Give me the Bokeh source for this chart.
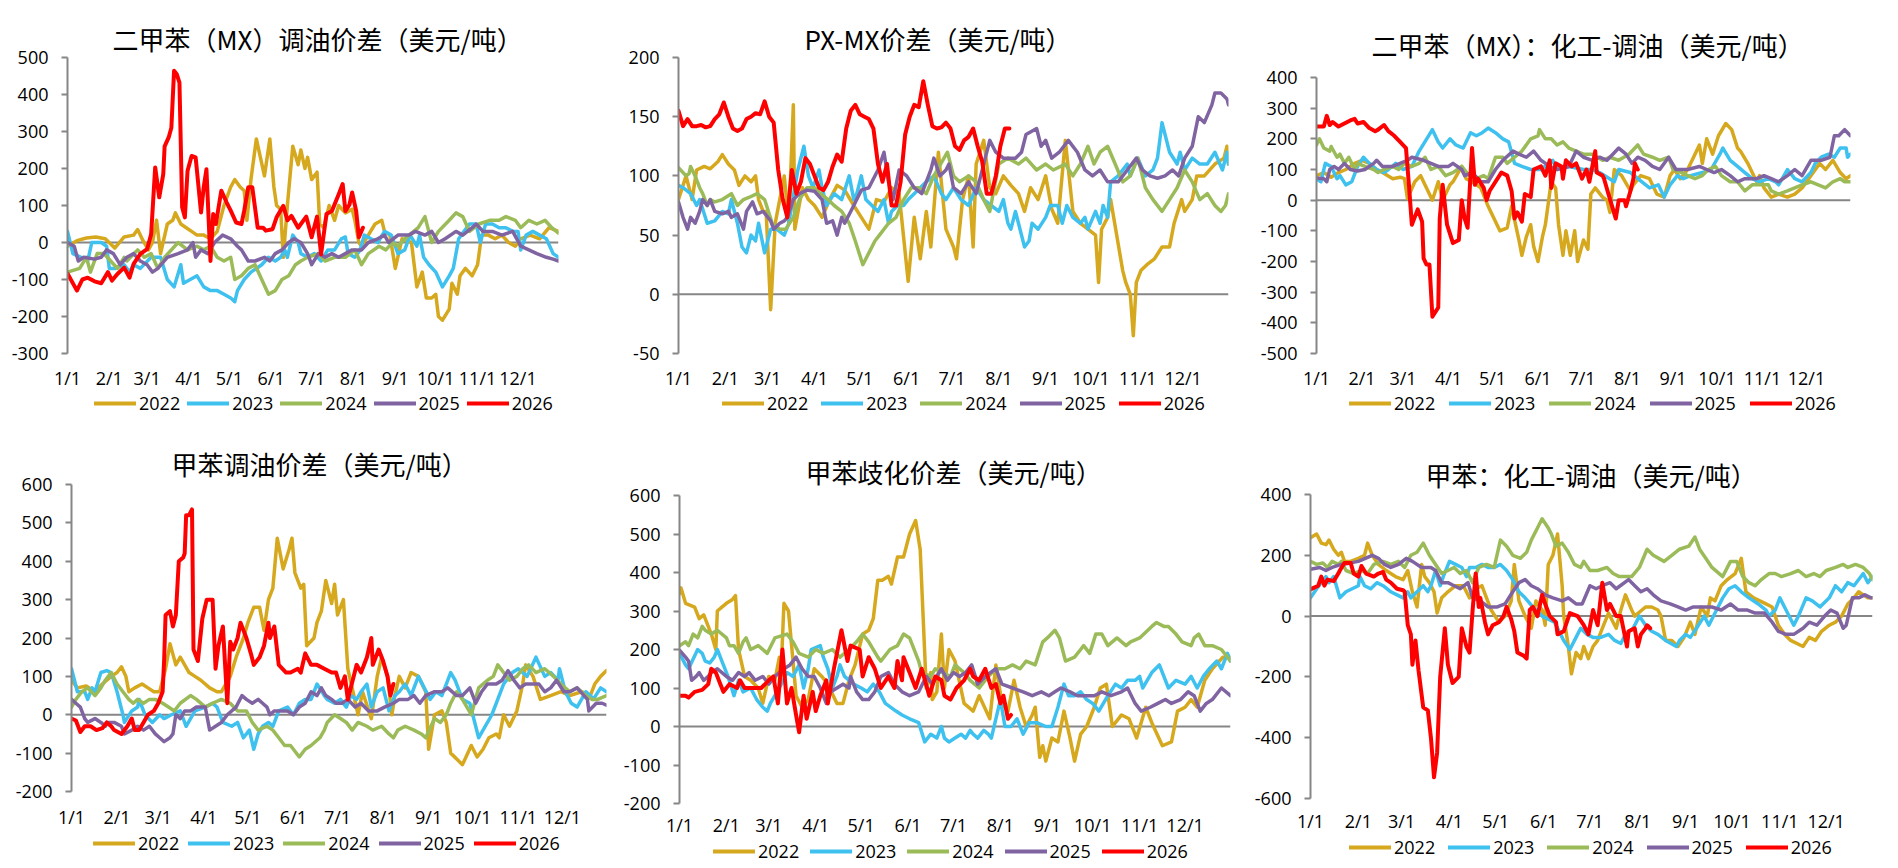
from bokeh.plotting import figure
from bokeh.models import Range1d, FixedTicker, Span, Legend, LegendItem
from bokeh.layouts import column, row
from bokeh.embed import file_html
from bokeh.resources import INLINE

YEARS = ["2022", "2023", "2024", "2025", "2026"]
COLORS = ["#D6A81E", "#3FC1F0", "#9BBB59", "#8064A2", "#FF0000"]
MONTH_DAYS = [0, 31, 59, 90, 120, 151, 181, 212, 243, 273, 304, 334]
MONTH_LABELS = ["1/1", "2/1", "3/1", "4/1", "5/1", "6/1", "7/1", "8/1", "9/1", "10/1", "11/1", "12/1"]

# ---------- Chart 1: 二甲苯（MX）调油价差 (day-of-year, value) ----------
c1_2022 = [(0,-10),(7,5),(14,12),(21,15),(28,10),(35,-15),(42,15),(49,20),(52,35),(56,5),(60,-20),(63,0),(66,60),(69,-30),(74,50),(78,60),(80,80),(84,50),(88,40),(92,30),(96,20),(101,20),(106,10),(111,30),(116,100),(121,150),(124,170),(128,150),(131,140),(133,60),(136,170),(140,280),(146,180),(150,280),(153,150),(155,100),(158,90),(160,-40),(163,100),(167,260),(171,210),(173,250),(176,200),(178,230),(181,170),(185,190),(187,50),(190,40),(194,100),(198,60),(201,100),(206,80),(211,90),(213,60),(216,0),(218,-10),(223,20),(228,50),(233,60),(235,30),(239,20),(243,-70),(248,10),(255,0),(259,-120),(263,-80),(266,-150),(270,-150),(273,-140),(275,-200),(278,-210),(283,-180),(285,-110),(289,-140),(291,-90),(295,-70),(300,-90),(304,-60),(307,20),(312,20),(317,10),(322,20),(327,0),(332,-10),(336,10),(343,20),(350,10),(357,40),(364,30)]
c1_2023 = [(0,30),(4,-30),(10,-40),(15,-50),(18,0),(25,0),(29,-10),(31,-70),(36,-70),(42,-60),(46,-80),(49,-60),(54,-70),(62,-40),(69,-40),(74,-100),(79,-120),(84,-60),(86,-110),(91,-100),(96,-90),(101,-120),(106,-130),(111,-130),(116,-140),(121,-150),(124,-160),(126,-130),(131,-100),(136,-80),(144,-60),(149,-40),(154,-50),(158,-40),(161,-20),(163,-40),(167,20),(171,0),(173,-30),(178,-40),(183,-30),(188,-50),(193,-20),(198,-20),(203,10),(206,15),(208,-30),(213,-40),(217,-20),(220,20),(225,10),(230,0),(235,30),(240,20),(245,-30),(250,-20),(254,20),(259,-10),(261,20),(264,-40),(268,-60),(273,-80),(278,-120),(283,-90),(286,-70),(290,10),(294,30),(298,50),(303,50),(306,0),(310,50),(315,50),(320,40),(325,40),(330,30),(334,30),(336,-20),(340,20),(345,30),(350,20),(355,10),(360,-30),(364,-40)]
c1_2024 = [(0,-80),(9,-70),(14,-40),(17,-80),(22,-30),(27,-30),(32,-50),(37,-70),(42,-40),(44,-50),(52,-20),(57,-40),(62,-30),(67,-70),(72,-40),(82,0),(89,-20),(96,-10),(101,-20),(106,-10),(111,-40),(116,-50),(121,-40),(124,-100),(129,-90),(134,-70),(139,-60),(144,-100),(149,-140),(154,-130),(159,-100),(164,-90),(169,-60),(173,-50),(178,-40),(186,-30),(191,-50),(198,-40),(206,-40),(213,-20),(218,-60),(223,-30),(231,-10),(236,-20),(241,0),(245,-10),(250,10),(260,40),(265,70),(270,0),(275,30),(283,60),(288,80),(293,70),(298,30),(305,50),(313,60),(320,60),(325,70),(332,60),(336,40),(342,60),(348,50),(354,60),(359,40),(364,25)]
c1_2025 = [(0,0),(5,-10),(8,-50),(12,-40),(20,-45),(25,-40),(29,-20),(34,-30),(39,-60),(44,-40),(49,-30),(54,-50),(59,-60),(63,-80),(67,-70),(74,-40),(82,-30),(89,-20),(93,0),(95,-40),(99,-20),(104,-30),(109,0),(115,20),(121,10),(126,-10),(129,-20),(134,-50),(139,-50),(146,-40),(150,-50),(154,-30),(159,-20),(164,0),(168,10),(173,0),(178,-30),(181,-60),(186,-30),(191,-40),(196,-30),(201,-40),(206,-30),(211,-20),(218,-20),(223,0),(230,10),(235,20),(238,0),(245,20),(253,20),(258,30),(265,20),(270,30),(275,0),(280,10),(288,30),(293,20),(300,40),(303,50),(308,30),(315,30),(322,20),(330,30),(336,-10),(342,-20),(348,-30),(355,-40),(360,-45),(364,-50)]
c1_2026 = [(0,-84),(7,-130),(11,-100),(15,-95),(20,-105),(25,-110),(30,-80),(33,-103),(37,-85),(42,-68),(46,-95),(49,-58),(54,-31),(59,-18),(62,22),(65,203),(68,122),(71,185),(72,260),(75,284),(77,310),(79,464),(81,455),(83,432),(85,95),(87,68),(89,194),(92,234),(95,230),(99,81),(101,150),(103,198),(106,-50),(108,77),(110,50),(114,140),(118,108),(121,86),(125,54),(129,50),(131,86),(134,149),(137,149),(141,40),(145,40),(147,32),(152,36),(155,68),(160,99),(163,60),(166,72),(171,40),(177,70),(181,14),(185,70),(188,-32),(192,77),(196,85),(201,130),(204,158),(206,85),(209,102),(211,135),(214,85),(216,14),(219,40)]

# ---------- Chart 2: PX-MX价差 ----------
c2_2022 = [(0,80),(5,100),(9,80),(12,105),(17,108),(21,106),(26,112),(29,118),(33,110),(37,105),(40,92),(44,100),(48,95),(51,100),(53,80),(56,70),(58,70),(61,-13),(64,60),(67,80),(70,100),(73,60),(76,160),(77,55),(82,90),(86,80),(90,75),(95,65),(100,80),(105,92),(110,88),(116,75),(121,65),(126,55),(131,80),(136,78),(141,90),(146,85),(152,11),(156,65),(160,30),(164,70),(167,40),(172,120),(177,55),(182,40),(184,30),(188,80),(192,100),(195,40),(197,110),(202,130),(206,90),(210,85),(215,100),(220,92),(225,85),(229,70),(233,90),(238,80),(243,100),(247,72),(251,60),(256,130),(261,70),(266,60),(271,55),(276,50),(278,10),(280,55),(284,65),(286,80),(294,20),(296,10),(299,0),(301,-35),(303,10),(306,20),(310,25),(315,30),(320,40),(325,40),(328,60),(333,80),(335,70),(340,80),(343,100),(348,100),(355,110),(361,115),(363,125),(364,110)]
c2_2023 = [(0,92),(3,90),(8,85),(12,75),(14,80),(19,60),(24,62),(29,70),(33,68),(35,80),(39,60),(42,40),(45,35),(48,50),(51,45),(53,60),(57,35),(61,55),(65,55),(70,50),(73,60),(79,105),(83,125),(86,100),(89,90),(93,105),(95,90),(98,75),(103,85),(108,80),(113,100),(116,80),(118,85),(121,100),(124,80),(128,75),(132,70),(136,80),(139,60),(141,70),(145,75),(149,75),(152,80),(156,85),(164,95),(169,100),(174,85),(177,80),(182,90),(187,80),(192,75),(197,90),(202,80),(207,75),(212,70),(215,80),(218,60),(220,55),(223,70),(225,60),(229,40),(232,45),(234,60),(238,55),(243,65),(246,75),(251,75),(254,60),(257,75),(261,65),(266,60),(269,65),(271,55),(276,70),(279,60),(281,75),(284,65),(286,95),(291,100),(297,110),(299,100),(304,115),(309,100),(314,105),(317,115),(320,145),(325,120),(330,110),(332,120),(335,105),(340,115),(345,110),(350,110),(355,120),(360,105),(363,120),(364,110)]
c2_2024 = [(0,107),(5,100),(7,102),(8,108),(11,100),(14,90),(16,85),(19,75),(21,80),(24,78),(29,80),(35,85),(39,75),(43,80),(47,82),(52,85),(57,80),(62,60),(67,55),(71,55),(76,65),(80,80),(85,90),(90,90),(94,85),(99,80),(103,75),(108,70),(113,60),(117,45),(122,25),(126,35),(130,45),(133,50),(139,60),(144,65),(149,80),(154,90),(159,90),(164,85),(169,100),(178,120),(182,100),(186,95),(192,100),(197,95),(202,80),(206,70),(212,110),(218,115),(225,110),(230,115),(237,105),(243,110),(248,105),(256,110),(261,100),(266,110),(271,125),(275,110),(279,120),(284,125),(289,110),(294,95),(299,100),(304,115),(309,90),(314,80),(320,70),(325,80),(330,90),(335,105),(340,95),(345,80),(350,85),(355,75),(359,70),(362,75),(364,85)]
c2_2025 = [(0,78),(3,65),(6,55),(8,65),(11,60),(14,70),(16,80),(19,75),(21,80),(24,70),(29,68),(33,70),(35,65),(39,68),(43,55),(45,70),(49,78),(52,68),(56,70),(61,62),(63,55),(67,60),(70,62),(72,65),(76,80),(80,85),(85,88),(90,87),(95,80),(98,60),(102,62),(105,50),(108,65),(110,60),(116,75),(121,88),(126,90),(132,105),(136,120),(139,95),(142,80),(146,105),(151,100),(156,90),(161,85),(167,105),(169,115),(173,100),(177,105),(179,110),(182,90),(187,85),(192,95),(197,85),(202,110),(206,130),(210,120),(215,115),(223,115),(227,120),(230,135),(237,140),(240,125),(243,130),(247,115),(252,120),(258,130),(264,120),(269,105),(274,100),(279,105),(284,95),(291,95),(297,105),(303,115),(307,105),(312,100),(317,98),(322,100),(327,105),(331,100),(335,115),(340,125),(344,150),(348,145),(353,160),(355,170),(359,170),(363,165),(364,160)]
c2_2026 = [(0,155),(3,142),(6,148),(9,142),(12,142),(15,143),(18,141),(21,142),(24,148),(27,152),(30,162),(33,150),(36,140),(39,138),(42,140),(45,148),(48,150),(51,153),(54,152),(57,163),(60,150),(63,145),(66,105),(69,80),(72,65),(75,105),(78,85),(81,95),(84,115),(87,110),(90,100),(93,90),(96,88),(99,95),(102,108),(105,118),(108,112),(111,140),(114,155),(117,160),(120,152),(123,150),(126,148),(129,140),(132,110),(135,95),(138,110),(141,75),(144,75),(147,95),(150,135),(153,150),(156,160),(159,158),(162,180),(165,160),(168,142),(171,140),(174,141),(177,145),(180,140),(183,125),(186,122),(189,130),(192,133),(195,140),(198,125),(201,112),(204,85),(207,85),(210,100),(213,125),(216,140),(219,140)]

# ---------- Chart 3: 二甲苯（MX）：化工-调油 ----------
c3_2022 = [(0,80),(5,90),(10,75),(15,90),(20,100),(26,120),(31,130),(36,120),(41,100),(45,90),(52,70),(57,75),(60,70),(62,5),(67,60),(71,80),(75,40),(79,0),(83,60),(86,0),(91,50),(93,60),(99,110),(102,70),(106,60),(112,40),(117,-20),(121,-60),(125,-100),(130,-90),(133,-20),(138,-130),(140,-180),(143,-120),(146,-80),(148,-150),(151,-200),(154,-120),(156,-80),(160,60),(163,40),(165,-80),(168,-180),(170,-100),(173,-180),(176,-100),(178,-200),(182,-130),(185,-160),(187,20),(190,40),(195,10),(198,0),(200,-40),(203,100),(208,80),(214,30),(216,50),(221,80),(227,70),(232,20),(237,10),(241,80),(244,100),(248,70),(253,100),(258,150),(261,180),(263,120),(266,200),(270,150),(274,210),(279,250),(283,230),(287,170),(289,160),(294,120),(300,60),(302,80),(305,40),(310,10),(315,20),(321,10),(326,20),(331,40),(337,80),(343,120),(347,100),(352,130),(357,90),(361,70),(364,80)]
c3_2023 = [(0,70),(3,60),(6,120),(10,110),(14,70),(16,80),(20,50),(24,60),(28,110),(32,140),(36,120),(41,100),(46,90),(49,100),(54,120),(59,100),(65,110),(70,160),(79,230),(83,190),(86,170),(91,200),(95,180),(100,170),(105,220),(109,210),(113,220),(117,235),(122,220),(127,200),(131,190),(135,120),(140,110),(146,100),(153,100),(161,130),(164,100),(172,110),(182,100),(188,100),(193,90),(203,60),(206,100),(214,90),(219,70),(227,40),(233,50),(237,10),(241,50),(246,80),(250,70),(255,80),(263,90),(269,100),(275,150),(277,170),(282,130),(287,110),(292,90),(297,70),(302,60),(308,70),(313,60),(315,50),(321,100),(326,70),(331,60),(337,90),(340,120),(344,140),(349,150),(353,140),(357,170),(361,170),(362,140),(364,150)]
c3_2024 = [(0,180),(2,200),(5,170),(9,160),(10,175),(14,140),(16,150),(19,120),(22,140),(26,100),(28,120),(33,110),(39,100),(42,90),(46,100),(52,110),(56,100),(60,120),(65,110),(70,120),(74,140),(78,100),(83,110),(88,80),(93,90),(99,110),(104,80),(109,70),(114,80),(117,70),(122,140),(127,140),(130,120),(135,140),(140,160),(146,200),(151,210),(152,230),(156,200),(160,200),(164,180),(168,190),(172,170),(177,160),(182,150),(188,150),(195,130),(200,140),(206,130),(213,150),(219,180),(223,150),(229,140),(234,130),(240,140),(243,100),(249,90),(253,80),(258,70),(263,80),(267,100),(272,110),(276,80),(282,60),(287,60),(292,30),(297,50),(302,50),(308,50),(310,30),(315,20),(321,30),(326,40),(331,50),(337,60),(342,50),(347,40),(352,60),(357,70),(360,60),(364,60)]
c3_2025 = [(0,72),(5,70),(7,60),(9,100),(12,110),(15,100),(19,120),(23,100),(28,95),(33,100),(39,120),(41,130),(45,110),(52,110),(57,120),(62,130),(65,140),(73,130),(78,120),(83,110),(90,110),(93,120),(99,100),(101,80),(106,90),(112,60),(117,60),(122,100),(127,130),(134,160),(138,150),(143,140),(148,160),(153,130),(159,110),(164,100),(172,110),(177,160),(182,140),(188,130),(193,140),(198,130),(202,150),(206,170),(211,150),(215,120),(219,140),(224,130),(229,110),(234,100),(240,140),(245,100),(253,100),(261,110),(266,100),(271,90),(276,100),(282,80),(287,60),(292,70),(300,70),(305,80),(310,70),(315,60),(321,80),(326,100),(331,80),(337,130),(344,130),(350,140),(353,210),(356,210),(360,230),(362,220),(364,210)]
c3_2026 = [(0,240),(5,240),(7,275),(9,245),(11,255),(15,240),(19,250),(23,260),(26,265),(28,250),(32,255),(36,235),(40,225),(42,230),(46,245),(49,225),(53,210),(57,190),(61,170),(63,50),(65,-80),(69,-30),(72,-70),(73,-190),(75,-210),(77,-210),(79,-380),(83,-350),(84,-60),(86,50),(89,-80),(93,-140),(97,-130),(99,0),(101,-60),(103,-90),(106,170),(108,50),(110,70),(114,40),(116,0),(118,30),(122,60),(126,90),(130,80),(133,30),(135,-60),(137,-40),(140,-70),(142,20),(146,10),(148,100),(153,110),(156,80),(159,130),(160,40),(163,120),(167,110),(168,70),(170,130),(174,110),(177,120),(181,70),(184,100),(186,60),(190,160),(191,90),(195,80),(196,70),(199,20),(204,-60),(206,0),(210,0),(211,-20),(214,30),(216,70),(217,120),(219,100)]

# ---------- Chart 4: 甲苯调油价差 ----------
c4_2022 = [(0,90),(4,70),(10,75),(16,60),(21,80),(27,100),(31,110),(34,125),(37,100),(39,60),(43,70),(48,80),(52,70),(56,60),(60,60),(64,120),(67,185),(71,130),(74,150),(80,110),(84,100),(88,90),(94,70),(99,60),(102,60),(108,100),(112,150),(117,200),(120,240),(124,280),(128,280),(131,220),(134,300),(137,330),(140,460),(144,380),(148,430),(150,460),(152,370),(156,330),(158,340),(160,180),(165,200),(167,240),(170,270),(173,350),(177,290),(179,340),(181,260),(185,300),(188,120),(195,0),(198,60),(204,-10),(208,100),(211,150),(215,100),(218,0),(220,50),(223,100),(227,70),(231,110),(236,100),(241,60),(243,-90),(247,0),(252,10),(255,-20),(258,-100),(266,-130),(272,-80),(276,-110),(280,-90),(284,-60),(289,-50),(291,-60),(294,0),(298,-30),(303,10),(307,80),(309,130),(314,100),(319,40),(326,50),(333,60),(339,50),(347,60),(353,50),(356,80),(360,100),(364,115)]
c4_2023 = [(0,120),(4,60),(9,60),(11,40),(14,70),(16,60),(20,110),(24,115),(27,110),(31,60),(35,0),(36,-20),(41,10),(45,20),(46,40),(50,0),(55,-20),(60,0),(63,-10),(68,0),(74,10),(78,-30),(84,10),(91,20),(96,30),(99,20),(103,-20),(109,-30),(113,-20),(117,-60),(121,-40),(124,-90),(127,-50),(130,-30),(134,-20),(137,-30),(141,10),(147,20),(151,0),(155,30),(159,40),(163,40),(167,80),(172,50),(174,40),(179,30),(183,40),(187,20),(190,50),(194,40),(197,60),(201,80),(204,20),(208,60),(212,70),(216,10),(220,50),(223,60),(227,80),(231,50),(236,100),(240,70),(244,40),(248,60),(252,50),(258,110),(261,90),(266,40),(271,30),(275,-30),(277,-60),(280,-40),(286,0),(290,40),(294,80),(300,110),(304,120),(310,100),(316,150),(322,100),(326,110),(331,90),(332,120),(336,60),(340,30),(344,20),(350,60),(353,50),(355,40),(360,70),(364,60)]
c4_2024 = [(0,20),(3,40),(7,60),(11,70),(16,50),(20,70),(23,90),(27,110),(31,80),(35,60),(39,40),(42,30),(45,40),(49,30),(53,40),(57,40),(62,30),(66,20),(70,10),(74,30),(81,50),(85,40),(91,20),(96,30),(102,40),(108,30),(113,10),(119,10),(123,-20),(127,-40),(133,-30),(137,-40),(141,-60),(145,-80),(149,-80),(155,-110),(159,-90),(163,-80),(169,-60),(172,-40),(174,-20),(179,0),(183,-10),(187,-20),(191,-40),(195,-20),(201,-30),(205,-40),(211,-30),(216,-50),(219,-60),(222,-40),(227,-30),(233,-40),(238,-50),(241,-60),(247,-10),(251,-20),(255,0),(258,30),(262,60),(266,40),(272,0),(277,70),(283,90),(287,100),(290,130),(294,110),(298,90),(303,100),(307,120),(311,130),(316,110),(322,120),(328,100),(333,80),(339,60),(344,70),(350,50),(354,40),(358,40),(364,50)]
c4_2025 = [(0,40),(3,30),(6,20),(9,-10),(11,-20),(16,-10),(20,-20),(23,-30),(25,-20),(29,-20),(34,-30),(36,-50),(41,-40),(45,-30),(49,-40),(53,-30),(57,-50),(60,-60),(63,-70),(67,-60),(69,-50),(71,0),(74,-10),(77,10),(81,10),(85,20),(91,20),(94,-40),(98,-30),(102,-20),(106,0),(112,20),(116,50),(119,40),(123,30),(127,40),(130,30),(133,20),(135,0),(138,10),(142,10),(147,10),(151,0),(155,20),(159,30),(163,60),(167,50),(170,70),(173,50),(177,40),(180,30),(184,30),(188,40),(193,20),(197,30),(202,10),(208,10),(213,20),(219,30),(223,40),(229,40),(233,50),(237,30),(241,50),(247,60),(252,60),(256,70),(262,50),(266,50),(271,70),(275,30),(279,60),(283,80),(289,80),(293,90),(297,115),(301,90),(305,70),(309,80),(314,80),(318,80),(322,60),(326,70),(330,90),(335,60),(339,60),(344,70),(351,40),(352,10),(357,30),(361,30),(364,25)]
c4_2026 = [(0,-10),(3,-15),(6,-45),(9,-30),(13,-30),(17,-40),(21,-35),(24,-20),(27,-30),(29,-40),(34,-50),(38,-30),(41,-10),(43,-40),(46,-40),(49,-20),(52,0),(56,10),(59,30),(62,60),(63,140),(64,260),(67,270),(69,230),(71,260),(73,400),(76,410),(77,420),(78,520),(80,520),(82,535),(83,170),(86,140),(89,250),(92,300),(96,300),(98,120),(100,180),(103,230),(106,30),(108,190),(110,170),(113,200),(115,240),(119,200),(122,160),(124,130),(128,150),(131,180),(134,240),(135,200),(138,230),(141,130),(146,110),(149,110),(154,120),(156,110),(159,160),(163,130),(167,130),(172,120),(177,110),(180,110),(183,70),(186,100),(188,40),(194,130),(197,110),(201,150),(204,200),(205,130),(209,170),(212,140),(215,100),(217,50),(219,80)]

# ---------- Chart 5: 甲苯歧化价差 ----------
c5_2022 = [(0,345),(1,360),(4,320),(10,310),(13,280),(16,290),(19,260),(21,240),(24,200),(25,300),(28,310),(31,320),(35,330),(37,340),(39,200),(43,130),(47,120),(52,100),(55,60),(59,130),(63,120),(66,180),(67,130),(69,320),(72,300),(75,170),(77,80),(81,50),(85,70),(89,150),(94,130),(98,110),(104,60),(108,60),(112,120),(116,160),(121,240),(125,250),(128,280),(131,380),(134,380),(138,390),(140,370),(144,440),(148,440),(152,500),(156,535),(159,460),(163,100),(166,140),(167,70),(170,90),(173,240),(175,100),(178,200),(182,170),(188,60),(194,40),(198,80),(205,20),(209,160),(213,60),(217,40),(221,120),(225,50),(229,0),(233,30),(235,50),(238,-80),(240,-50),(242,-90),(246,-30),(250,-40),(254,40),(258,-30),(261,-90),(265,-20),(269,0),(274,50),(278,100),(282,110),(286,0),(292,30),(297,20),(302,-30),(308,50),(312,10),(319,-50),(325,-40),(329,40),(334,50),(338,70),(342,50),(347,120),(352,150),(359,180),(364,180)]
c5_2023 = [(0,190),(4,160),(6,150),(12,200),(15,190),(17,170),(20,165),(23,180),(25,200),(28,170),(32,130),(36,80),(39,120),(42,90),(47,100),(51,70),(55,50),(58,40),(60,60),(66,100),(71,140),(75,130),(79,160),(82,100),(85,150),(87,200),(93,210),(95,180),(98,150),(101,100),(104,130),(106,160),(109,130),(115,110),(120,100),(124,90),(128,110),(132,90),(136,60),(143,40),(147,30),(152,20),(158,10),(162,-40),(166,-20),(170,-30),(173,0),(175,-30),(178,-40),(182,-30),(186,-20),(189,-30),(192,-10),(194,-20),(197,-30),(201,-10),(204,-20),(206,-30),(209,20),(212,70),(215,0),(219,0),(223,20),(227,-20),(231,10),(236,10),(242,0),(246,0),(250,50),(254,110),(257,80),(261,80),(265,90),(269,70),(273,60),(277,40),(280,60),(283,80),(288,110),(292,100),(296,120),(301,120),(304,130),(306,100),(312,140),(317,160),(323,100),(328,120),(334,110),(338,130),(342,100),(346,130),(350,150),(355,170),(358,150),(362,190),(364,170)]
c5_2024 = [(0,210),(4,220),(6,210),(9,240),(12,230),(15,260),(17,250),(21,240),(25,250),(31,230),(33,210),(36,210),(39,190),(42,220),(44,230),(47,200),(52,210),(58,190),(63,230),(71,240),(75,220),(79,190),(85,180),(90,200),(95,190),(101,200),(106,180),(112,200),(117,220),(121,240),(125,220),(131,180),(133,170),(139,200),(144,210),(148,240),(152,230),(158,170),(160,140),(166,130),(169,150),(174,140),(179,130),(182,160),(188,140),(192,120),(198,100),(204,130),(209,150),(215,150),(220,160),(225,150),(229,170),(235,160),(240,220),(243,230),(248,250),(251,230),(255,170),(261,180),(265,200),(267,210),(271,190),(275,240),(279,240),(283,210),(289,230),(295,210),(298,220),(304,230),(312,260),(315,270),(320,260),(323,260),(328,240),(332,220),(338,210),(340,230),(343,240),(347,210),(352,210),(358,200),(362,180),(364,170)]
c5_2025 = [(0,198),(4,180),(6,170),(8,120),(11,130),(13,140),(16,120),(19,130),(21,140),(25,150),(31,130),(35,120),(39,140),(43,130),(46,140),(50,120),(55,130),(59,110),(63,130),(69,150),(73,160),(77,180),(81,150),(85,130),(89,130),(93,100),(97,60),(100,90),(104,100),(108,110),(112,100),(113,130),(117,90),(121,70),(125,70),(129,90),(133,130),(138,140),(142,110),(147,90),(152,80),(158,90),(163,130),(167,110),(173,150),(177,120),(181,140),(185,130),(189,140),(193,160),(197,110),(202,130),(209,150),(213,110),(220,100),(227,90),(233,80),(239,90),(244,80),(248,90),(252,100),(258,90),(263,80),(268,80),(274,80),(279,90),(285,80),(292,90),(296,100),(301,60),(305,40),(311,50),(316,60),(321,70),(325,60),(331,70),(336,90),(340,80),(344,40),(348,60),(352,70),(358,100),(364,80)]
c5_2026 = [(0,80),(4,80),(6,75),(10,90),(15,95),(19,110),(21,150),(24,140),(27,110),(29,90),(33,110),(38,100),(40,120),(43,100),(48,100),(54,100),(59,120),(62,130),(65,60),(68,200),(71,60),(74,100),(77,30),(79,-15),(82,80),(84,20),(88,90),(90,40),(93,80),(97,120),(98,60),(102,150),(107,250),(111,170),(113,210),(119,200),(121,130),(125,180),(129,150),(133,100),(138,130),(142,100),(144,170),(147,120),(148,180),(152,140),(156,100),(160,150),(165,80),(169,130),(173,120),(175,80),(179,70),(183,100),(188,120),(192,150),(194,130),(198,120),(202,150),(206,100),(209,110),(212,60),(214,80),(217,20),(219,30)]

# ---------- Chart 6: 甲苯：化工-调油 ----------
c6_2022 = [(0,258),(4,270),(7,240),(10,235),(12,250),(15,220),(18,200),(20,210),(22,180),(26,180),(31,190),(35,200),(37,240),(40,200),(44,170),(49,150),(55,130),(60,120),(63,150),(66,80),(69,30),(72,170),(74,130),(77,110),(80,80),(82,10),(85,60),(89,80),(94,100),(99,100),(103,60),(107,90),(111,100),(114,60),(117,20),(122,-20),(126,0),(130,50),(132,170),(135,50),(139,0),(143,-40),(146,50),(150,20),(152,-30),(154,170),(157,200),(160,270),(163,100),(164,0),(167,-100),(169,-190),(172,-120),(175,-140),(177,-100),(180,-140),(183,-100),(186,-80),(189,-40),(193,10),(196,-20),(198,-40),(201,20),(204,70),(208,20),(210,0),(217,30),(221,30),(225,20),(227,0),(230,-80),(234,-80),(238,-100),(242,-70),(246,-20),(249,-60),(253,30),(257,0),(259,60),(262,50),(266,100),(270,120),(275,140),(279,190),(282,80),(287,60),(291,50),(295,40),(299,30),(303,-30),(307,-60),(311,-80),(319,-100),(323,-70),(327,-80),(331,-50),(336,-30),(340,-20),(344,0),(348,40),(352,60),(355,80),(361,60),(364,60)]
c6_2023 = [(0,60),(4,90),(7,110),(10,130),(12,110),(15,130),(19,60),(23,80),(27,90),(31,100),(32,130),(35,100),(39,90),(43,110),(47,100),(52,80),(56,70),(60,60),(63,80),(65,60),(69,80),(73,100),(76,80),(78,100),(81,150),(84,100),(86,130),(90,180),(94,170),(98,160),(101,130),(103,160),(107,160),(111,170),(115,160),(119,160),(123,170),(127,150),(131,120),(135,80),(139,60),(144,30),(150,0),(154,-10),(158,-20),(162,-60),(164,-80),(168,-110),(172,-70),(175,-40),(179,-60),(183,-70),(188,-70),(193,-60),(197,-80),(201,-90),(204,-60),(209,-40),(213,0),(217,-30),(221,-50),(225,-60),(230,-80),(237,-100),(239,-80),(243,-60),(246,-70),(250,-40),(255,0),(258,-30),(262,10),(267,60),(271,90),(275,100),(279,80),(284,60),(290,40),(295,20),(297,0),(301,20),(304,60),(308,20),(313,-30),(316,0),(321,60),(325,50),(330,30),(336,60),(340,100),(344,80),(348,110),(352,100),(358,140),(361,110),(364,130)]
c6_2024 = [(0,180),(4,170),(8,175),(11,160),(14,180),(18,170),(20,180),(23,150),(28,140),(33,150),(37,140),(41,170),(47,180),(52,170),(57,180),(61,160),(65,200),(69,210),(73,240),(77,200),(81,170),(85,140),(89,150),(93,160),(97,140),(101,150),(105,110),(109,160),(114,170),(119,160),(123,250),(127,230),(131,200),(136,190),(140,210),(143,250),(147,290),(150,320),(154,290),(156,270),(159,230),(163,240),(167,210),(171,170),(175,160),(177,180),(181,150),(186,150),(192,160),(196,140),(200,130),(208,130),(213,160),(218,220),(222,200),(229,180),(234,200),(239,220),(245,230),(249,260),(252,220),(256,190),(260,160),(267,130),(272,180),(276,180),(280,130),(284,110),(288,100),(292,120),(297,140),(301,140),(305,130),(311,140),(316,150),(321,130),(326,140),(330,130),(334,150),(340,160),(345,170),(348,160),(353,170),(358,160),(362,140),(364,120)]
c6_2025 = [(0,154),(6,160),(10,150),(14,160),(20,170),(26,175),(31,180),(40,200),(44,190),(48,170),(52,160),(57,170),(62,190),(66,180),(72,160),(78,160),(81,150),(85,110),(89,110),(93,100),(97,90),(102,110),(105,60),(110,50),(115,30),(121,30),(126,40),(131,80),(135,110),(139,120),(143,100),(147,90),(152,70),(157,60),(163,50),(167,60),(172,40),(176,40),(181,100),(185,90),(189,100),(194,110),(198,90),(206,120),(210,100),(214,80),(218,90),(222,70),(227,50),(233,40),(238,30),(243,20),(248,30),(254,30),(260,30),(266,20),(272,40),(277,20),(283,20),(288,10),(294,10),(299,-20),(303,-50),(308,-60),(313,-60),(319,-40),(323,-20),(328,-30),(333,0),(337,20),(341,10),(345,-40),(347,-30),(351,60),(355,60),(359,70),(363,60),(364,60)]
c6_2026 = [(0,88),(5,100),(7,130),(9,100),(11,120),(15,115),(18,140),(19,150),(22,175),(26,175),(28,140),(31,130),(33,165),(36,140),(41,130),(44,140),(47,145),(49,120),(52,110),(56,90),(60,85),(61,80),(63,-30),(65,-60),(66,-160),(68,-80),(70,-180),(73,-300),(76,-310),(78,-400),(80,-530),(82,-450),(84,-200),(87,-40),(89,-160),(92,-220),(96,-200),(98,-40),(101,-100),(103,-120),(105,20),(107,140),(109,30),(110,60),(113,-20),(115,-60),(118,-30),(122,-20),(125,0),(127,30),(130,-10),(132,-50),(134,-120),(138,-130),(140,-140),(142,20),(144,30),(147,0),(150,70),(152,40),(155,0),(159,-20),(160,-60),(164,-50),(168,10),(173,0),(177,-30),(180,-60),(183,20),(186,-30),(189,110),(192,20),(194,40),(198,0),(201,0),(205,-100),(206,-50),(210,-40),(212,-100),(214,-60),(217,-40),(218,-30),(220,-40)]

TICK_FONT = "Open Sans"
TITLE_FONT = "Noto Sans CJK SC"
AXIS_GRAY = "#868686"


def no_align(p):
    try:
        p.frame_align = False
    except Exception:
        pass


def line_width(i):
    return 4 if i == 4 else 3.5


def make_chart(title, series, ymin, ymax, ystep, fw, fh, bl, br, bt, bb,
               title_off, title_standoff, x_standoff):
    p = figure(frame_width=fw, frame_height=fh,
               min_border_left=bl, min_border_right=br,
               min_border_top=bt, min_border_bottom=bb,
               x_range=Range1d(0, 364), y_range=Range1d(ymin, ymax),
               output_backend="svg", toolbar_location=None)
    no_align(p)
    p.title.text = title
    p.title.text_font = TITLE_FONT
    p.title.text_font_size = "26px"
    p.title.text_font_style = "normal"
    p.title.text_color = "#000000"
    p.title.align = "left"
    p.title.offset = title_off
    p.title.standoff = title_standoff
    p.outline_line_color = None
    p.xgrid.visible = False
    p.ygrid.visible = False
    p.background_fill_color = "white"
    p.border_fill_color = "white"

    xa = p.xaxis[0]
    xa.ticker = FixedTicker(ticks=MONTH_DAYS)
    xa.major_label_overrides = {d: l for d, l in zip(MONTH_DAYS, MONTH_LABELS)}
    xa.axis_line_color = None
    xa.major_tick_line_color = None
    xa.minor_tick_line_color = None
    xa.major_tick_out = 0
    xa.major_tick_in = 0
    xa.major_label_standoff = x_standoff
    xa.major_label_text_font = TICK_FONT
    xa.major_label_text_font_size = "18px"
    xa.major_label_text_color = "#000000"

    ya = p.yaxis[0]
    yt = list(range(ymin, ymax + 1, ystep))
    ya.ticker = FixedTicker(ticks=yt)
    ya.major_label_overrides = {v: str(v) for v in yt}
    ya.axis_line_color = AXIS_GRAY
    ya.axis_line_width = 2
    ya.major_tick_line_color = AXIS_GRAY
    ya.major_tick_line_width = 2
    ya.major_tick_out = 6
    ya.major_tick_in = 0
    ya.minor_tick_line_color = None
    ya.major_label_standoff = 13
    ya.major_label_text_font = TICK_FONT
    ya.major_label_text_font_size = "18px"
    ya.major_label_text_color = "#000000"

    p.add_layout(Span(location=0, dimension="width", line_color=AXIS_GRAY,
                      line_width=2, level="underlay"))

    for i, s in enumerate(series):
        xs = [d for d, v in s]
        ys = [v for d, v in s]
        p.line(xs, ys, line_color=COLORS[i], line_width=line_width(i),
               line_join="round", line_cap="round")
    return p


def make_legend(width, height, leg_x, leg_y, leg_sp):
    # legend strip below a chart; its sample lines lie outside the visible range
    lf = figure(width=width, height=height, x_range=Range1d(0, 1), y_range=Range1d(0, 1),
                x_axis_type=None, y_axis_type=None, toolbar_location=None,
                output_backend="svg", min_border=0, title=None)
    no_align(lf)
    lf.outline_line_color = None
    lf.xgrid.visible = False
    lf.ygrid.visible = False
    lf.background_fill_color = "white"
    lf.border_fill_color = "white"
    items = []
    for i in range(5):
        r = lf.line(x=[5, 6], y=[5, 6], line_color=COLORS[i], line_width=4,
                    line_cap="round")
        items.append(LegendItem(label=YEARS[i], renderers=[r]))
    leg = Legend(items=items, location=(leg_x, leg_y), orientation="horizontal",
                 glyph_width=42, glyph_height=24, label_standoff=3, spacing=leg_sp,
                 padding=0, margin=0, border_line_color=None,
                 background_fill_alpha=0, label_text_font=TICK_FONT,
                 label_text_font_size="18px", label_text_color="#000000",
                 label_height=24)
    lf.add_layout(leg)
    return lf


# Row 1
p1 = make_chart("二甲苯（MX）调油价差（美元/吨）",
                [c1_2022, c1_2023, c1_2024, c1_2025, c1_2026], -300, 500, 100,
                491, 296, 67, 62, 57, 37, 45, 1, 12)
p2 = make_chart("PX-MX价差（美元/吨）",
                [c2_2022, c2_2023, c2_2024, c2_2025, c2_2026], -50, 200, 50,
                550, 296, 58, 22, 57, 37, 126, 1, 12)
p3 = make_chart("二甲苯（MX）：化工-调油（美元/吨）",
                [c3_2022, c3_2023, c3_2024, c3_2025, c3_2026], -500, 400, 100,
                534, 276, 66, 40, 77, 37, 55, 30, 12)
l1 = make_legend(620, 42, 94, 19, 7)
l2 = make_legend(630, 42, 102, 19, 13)
l3 = make_legend(640, 42, 99, 19, 14)

# Row 2
p4 = make_chart("甲苯调油价差（美元/吨）",
                [c4_2022, c4_2023, c4_2024, c4_2025, c4_2026], -200, 600, 100,
                535, 307, 71, 12, 50, 37, 100, 6, 13)
p5 = make_chart("甲苯歧化价差（美元/吨）",
                [c5_2022, c5_2023, c5_2024, c5_2025, c5_2026], -200, 600, 100,
                551, 308, 61, 20, 61, 34, 126, 12, 9)
p6 = make_chart("甲苯：化工-调油（美元/吨）",
                [c6_2022, c6_2023, c6_2024, c6_2025, c6_2026], -600, 400, 200,
                562, 304, 60, 18, 60, 35, 115, 3, 10)
l4 = make_legend(618, 38, 93, 14, 9)
l5 = make_legend(632, 29, 95, 5, 11)
l6 = make_legend(640, 33, 99, 9, 13)

layout = column(row(column(p1, l1), column(p2, l2), column(p3, l3)),
                row(column(p4, l4), column(p5, l5), column(p6, l6)))
open("out.html", "w").write(file_html(layout, INLINE))
